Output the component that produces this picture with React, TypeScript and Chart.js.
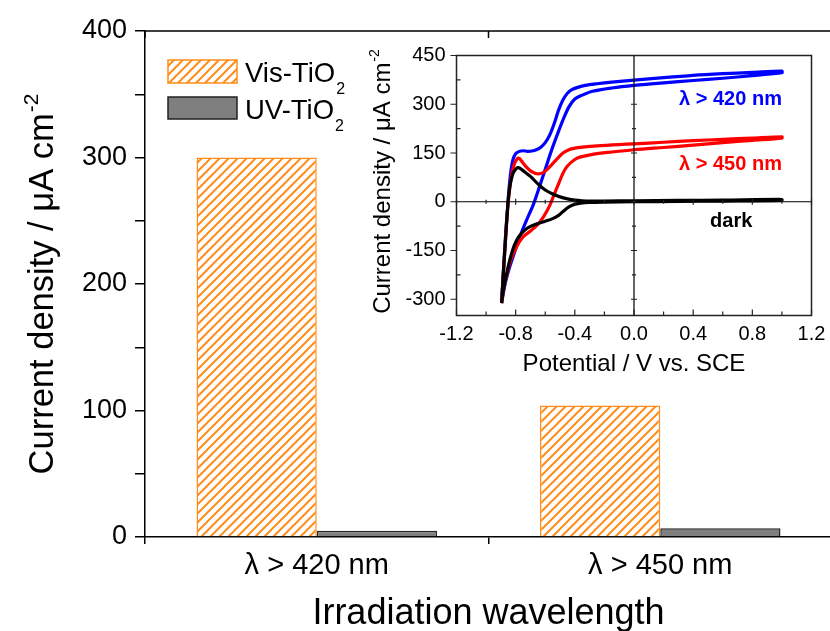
import { useEffect, useRef } from 'react';
import { Chart, registerables } from 'chart.js';

Chart.register(...registerables);

const FONT = "'Liberation Sans', Arial, Helvetica, sans-serif";
const ORANGE = '#FF8C1A';
const GRAY = '#7f7f7f';
const W = 834;
const H = 631;

// ---------- main bar chart ----------
const categories = ['λ > 420 nm', 'λ > 450 nm'];
const visTiO2 = [300, 104];
const uvTiO2 = [5, 7];
const seriesNames = ['Vis-TiO', 'UV-TiO'];
const seriesSub = ['2', '2'];
const mainYTicks = [0, 50, 100, 150, 200, 250, 300, 350, 400];
const mainYLabelled = [0, 100, 200, 300, 400];
const mainXTitle = 'Irradiation wavelength';
const mainYTitle = 'Current density / μA cm';
const mainYTitleSup = '-2';

// ---------- inset cyclic voltammograms ----------
const insetXTicks = [-1.2, -0.8, -0.4, 0.0, 0.4, 0.8, 1.2];
const insetXMinor = [-1.0, -0.6, -0.2, 0.2, 0.6, 1.0];
const insetYTicks = [-300, -150, 0, 150, 300, 450];
const insetYMinor = [-225, -75, 75, 225, 375];
const insetXTitle = 'Potential / V vs. SCE';
const insetYTitle = 'Current density / μA cm';
const insetYTitleSup = '-2';

// λ > 420 nm (blue)
const blueFwdV = [-0.895, -0.886, -0.876, -0.865, -0.855, -0.845, -0.832, -0.818, -0.8, -0.775, -0.75, -0.72, -0.69, -0.66, -0.63, -0.6, -0.57, -0.54, -0.51, -0.48, -0.45, -0.42, -0.38, -0.33, -0.25, -0.15, 0.0, 0.2, 0.4, 0.6, 0.8, 1.0];
const blueFwdJ = [-312, -240, -160, -80, -20, 40, 95, 130, 148, 155, 157, 155, 156, 160, 168, 182, 205, 240, 282, 314, 334, 345, 352, 358, 363, 368, 374, 382, 389, 394, 398, 402];
const blueRevV = [1.0, 0.8, 0.6, 0.4, 0.2, 0.0, -0.15, -0.28, -0.35, -0.4, -0.44, -0.48, -0.52, -0.56, -0.6, -0.64, -0.68, -0.72, -0.76, -0.8, -0.84, -0.87, -0.895];
const blueRevJ = [397, 388, 380, 373, 366, 358, 350, 340, 328, 316, 292, 252, 205, 155, 100, 45, -8, -50, -94, -145, -200, -250, -312];

// λ > 450 nm (red)
const redFwdV = [-0.895, -0.88, -0.865, -0.85, -0.83, -0.81, -0.79, -0.775, -0.76, -0.73, -0.7, -0.67, -0.645, -0.62, -0.59, -0.56, -0.52, -0.48, -0.44, -0.4, -0.35, -0.25, -0.1, 0.0, 0.2, 0.4, 0.6, 0.8, 1.0];
const redFwdJ = [-312, -200, -90, 0, 75, 115, 132, 133, 125, 108, 95, 88, 86, 88, 98, 112, 132, 150, 160, 165, 168, 172, 176, 178, 183, 188, 192, 196, 200];
const redRevV = [1.0, 0.8, 0.6, 0.4, 0.2, 0.0, -0.15, -0.28, -0.36, -0.4, -0.45, -0.48, -0.51, -0.54, -0.57, -0.61, -0.65, -0.7, -0.75, -0.79, -0.83, -0.86, -0.88, -0.895];
const redRevJ = [196, 189, 182, 174, 167, 160, 153, 146, 138, 130, 110, 88, 55, 22, -12, -45, -70, -90, -108, -135, -175, -225, -265, -312];

// dark (black)
const darkFwdV = [-0.895, -0.885, -0.872, -0.862, -0.851, -0.838, -0.82, -0.8, -0.785, -0.77, -0.74, -0.7, -0.65, -0.6, -0.55, -0.5, -0.45, -0.4, -0.35, -0.3, -0.2, 0.0, 0.3, 0.6, 1.0];
const darkFwdJ = [-312, -230, -140, -70, 0, 50, 85, 100, 105, 103, 92, 78, 55, 36, 24, 15, 9, 5, 3, 2, 2, 3, 4, 5, 7];
const darkRevV = [1.0, 0.6, 0.3, 0.0, -0.2, -0.3, -0.36, -0.4, -0.44, -0.48, -0.51, -0.55, -0.6, -0.65, -0.7, -0.74, -0.78, -0.81, -0.84, -0.865, -0.885, -0.895];
const darkRevJ = [4, 2, 1, 0, -1, -2, -4, -8, -16, -30, -42, -52, -60, -67, -76, -88, -108, -135, -180, -230, -275, -312];

const annotTexts = ['λ > 420 nm', 'λ > 450 nm', 'dark'];
const annotV = [1.0, 1.0, 0.8];
const annotJ = [315, 115, -61];
const annotColors = ['#0000FF', '#FF0000', '#000000'];

const toPts = (xs: number[], ys: number[]) => xs.map((x, i) => ({ x, y: ys[i] }));

function makeHatch(): CanvasPattern | string {
  const s = 9;
  const c = document.createElement('canvas');
  c.width = s;
  c.height = s;
  const g = c.getContext('2d');
  if (!g) return ORANGE;
  g.fillStyle = '#ffffff';
  g.fillRect(0, 0, s, s);
  g.strokeStyle = ORANGE;
  g.lineWidth = 2;
  g.beginPath();
  g.moveTo(-1, s + 1);
  g.lineTo(s + 1, -1);
  g.moveTo(-2, 2);
  g.lineTo(2, -2);
  g.moveTo(s - 2, s + 2);
  g.lineTo(s + 2, s - 2);
  g.stroke();
  return g.createPattern(c, 'repeat') || ORANGE;
}

function drawVTitle(ctx: CanvasRenderingContext2D, main: string, sup: string, cx: number, cy: number, size: number) {
  ctx.save();
  ctx.font = `${size}px ${FONT}`;
  const mw = ctx.measureText(main).width;
  const ss = Math.round(size * 0.6);
  ctx.font = `${ss}px ${FONT}`;
  const sw = ctx.measureText(sup).width;
  const total = mw + sw + 1;
  ctx.translate(cx, cy);
  ctx.rotate(-Math.PI / 2);
  ctx.fillStyle = '#000';
  ctx.textAlign = 'left';
  ctx.textBaseline = 'alphabetic';
  const base = size * 0.36;
  ctx.font = `${size}px ${FONT}`;
  ctx.fillText(main, -total / 2, base);
  ctx.font = `${ss}px ${FONT}`;
  ctx.fillText(sup, -total / 2 + mw + 1, base - size * 0.45);
  ctx.restore();
}

function drawSubText(ctx: CanvasRenderingContext2D, main: string, sub: string, x: number, baseline: number, size: number) {
  ctx.save();
  ctx.fillStyle = '#000';
  ctx.textAlign = 'left';
  ctx.textBaseline = 'alphabetic';
  ctx.font = `${size}px ${FONT}`;
  ctx.fillText(main, x, baseline);
  const mw = ctx.measureText(main).width;
  ctx.font = `${Math.round(size * 0.58)}px ${FONT}`;
  ctx.fillText(sub, x + mw + 1, baseline + size * 0.44);
  ctx.restore();
}

export default function App() {
  const mainRef = useRef<HTMLCanvasElement | null>(null);
  const insetRef = useRef<HTMLCanvasElement | null>(null);

  useEffect(() => {
    if (!mainRef.current || !insetRef.current) return;
    const hatch = makeHatch();

    const mainDecor = {
      id: 'mainDecor',
      afterDraw(chart: any) {
        const { ctx, chartArea: a, scales } = chart;
        const xs = scales.x;
        ctx.save();
        ctx.strokeStyle = '#000';
        ctx.lineWidth = 1.5;
        ctx.beginPath();
        ctx.moveTo(a.left, a.top);
        ctx.lineTo(a.right, a.top);
        ctx.lineTo(a.right, a.bottom);
        ctx.stroke();
        ctx.beginPath();
        for (let i = 0; i <= categories.length; i++) {
          const px = xs.getPixelForValue(i - 0.5);
          ctx.moveTo(px, a.top);
          ctx.lineTo(px, a.top + 7);
        }
        ctx.stroke();
        // x title
        ctx.fillStyle = '#000';
        ctx.font = `36px ${FONT}`;
        ctx.textAlign = 'center';
        ctx.textBaseline = 'alphabetic';
        ctx.fillText(mainXTitle, (a.left + a.right) / 2, 624);
        // y title
        drawVTitle(ctx, mainYTitle, mainYTitleSup, 41, (a.top + a.bottom) / 2, 34.5);
        // legend
        const fills = [hatch, GRAY];
        const strokes = [ORANGE, '#222'];
        const boxY = [60, 97];
        const boxH = [23, 22];
        const baseY = [82, 118.5];
        for (let i = 0; i < 2; i++) {
          ctx.fillStyle = fills[i];
          ctx.fillRect(168, boxY[i], 69, boxH[i]);
          ctx.strokeStyle = strokes[i];
          ctx.lineWidth = 1.5;
          ctx.strokeRect(168, boxY[i], 69, boxH[i]);
          drawSubText(ctx, seriesNames[i], seriesSub[i], 245, baseY[i], 27.5);
        }
        ctx.restore();
      },
    };

    const mainChart = new Chart(mainRef.current, {
      type: 'bar',
      data: {
        labels: categories,
        datasets: [
          {
            label: seriesNames[0] + seriesSub[0],
            data: visTiO2,
            backgroundColor: hatch as any,
            borderColor: ORANGE,
            borderWidth: 1.5,
            barPercentage: 1,
            categoryPercentage: 0.7,
          },
          {
            label: seriesNames[1] + seriesSub[1],
            data: uvTiO2,
            backgroundColor: GRAY,
            borderColor: '#222',
            borderWidth: 1.5,
            barPercentage: 1,
            categoryPercentage: 0.7,
          },
        ],
      },
      options: {
        responsive: false,
        animation: false,
        layout: { padding: { left: 0, top: 31, right: W - 832, bottom: 0 } },
        plugins: { legend: { display: false }, tooltip: { enabled: false } },
        scales: {
          x: {
            grid: { display: true, drawOnChartArea: false, offset: true, tickLength: 7, color: '#000', lineWidth: 1.5 },
            border: { display: true, color: '#000', width: 1.5 },
            ticks: { font: { family: FONT, size: 29 }, color: '#000', padding: 5, maxRotation: 0 },
            afterFit: (s: any) => {
              s.height = H - 537;
            },
          },
          y: {
            min: 0,
            max: 400,
            afterBuildTicks: (s: any) => {
              s.ticks = mainYTicks.map((v) => ({ value: v }));
            },
            ticks: {
              autoSkip: false,
              font: { family: FONT, size: 27 },
              color: '#000',
              padding: 8,
              callback: (v: any) => (mainYLabelled.includes(Number(v)) ? String(v) : ''),
            },
            grid: { display: true, drawOnChartArea: false, tickLength: 10, color: '#000', lineWidth: 1.5 },
            border: { display: true, color: '#000', width: 1.5 },
            afterFit: (s: any) => {
              s.width = 145;
            },
          },
        },
      },
      plugins: [mainDecor],
    });

    const insetDecor = {
      id: 'insetDecor',
      afterDraw(chart: any) {
        const { ctx, chartArea: a, scales } = chart;
        const xs = scales.x;
        const ys = scales.y;
        ctx.save();
        ctx.strokeStyle = '#222';
        ctx.lineWidth = 1.5;
        ctx.strokeRect(a.left, a.top, a.right - a.left, a.bottom - a.top);
        const x0 = xs.getPixelForValue(0);
        const y0 = ys.getPixelForValue(0);
        ctx.strokeStyle = '#000';
        ctx.lineWidth = 1.2;
        ctx.beginPath();
        ctx.moveTo(x0, a.top);
        ctx.lineTo(x0, a.bottom);
        ctx.moveTo(a.left, y0);
        ctx.lineTo(a.right, y0);
        ctx.stroke();
        ctx.lineWidth = 1.2;
        ctx.strokeStyle = '#222';
        ctx.beginPath();
        insetYTicks.forEach((v) => {
          const py = ys.getPixelForValue(v);
          ctx.moveTo(a.left - 6, py);
          ctx.lineTo(a.left, py);
          ctx.moveTo(x0 - 3, py);
          ctx.lineTo(x0 + 3, py);
        });
        insetYMinor.forEach((v) => {
          const py = ys.getPixelForValue(v);
          ctx.moveTo(a.left, py);
          ctx.lineTo(a.left + 4, py);
          ctx.moveTo(x0 - 2, py);
          ctx.lineTo(x0 + 2, py);
        });
        insetXTicks.forEach((v) => {
          const px = xs.getPixelForValue(v);
          ctx.moveTo(px, a.bottom);
          ctx.lineTo(px, a.bottom - 6);
          ctx.moveTo(px, y0 - 3);
          ctx.lineTo(px, y0 + 3);
        });
        insetXMinor.forEach((v) => {
          const px = xs.getPixelForValue(v);
          ctx.moveTo(px, a.bottom);
          ctx.lineTo(px, a.bottom - 4);
          ctx.moveTo(px, y0 - 2);
          ctx.lineTo(px, y0 + 2);
        });
        ctx.stroke();
        // titles
        ctx.fillStyle = '#000';
        ctx.font = `24px ${FONT}`;
        ctx.textAlign = 'center';
        ctx.textBaseline = 'alphabetic';
        ctx.fillText(insetXTitle, (a.left + a.right) / 2, 371);
        drawVTitle(ctx, insetYTitle, insetYTitleSup, 381, (a.top + a.bottom) / 2 - 4, 24);
        // annotations
        ctx.font = `bold 20px ${FONT}`;
        ctx.textAlign = 'right';
        ctx.textBaseline = 'middle';
        annotTexts.forEach((t, i) => {
          ctx.fillStyle = annotColors[i];
          ctx.fillText(t, xs.getPixelForValue(annotV[i]), ys.getPixelForValue(annotJ[i]));
        });
        ctx.restore();
      },
    };

    const lineDs = (label: string, color: string, fv: number[], fj: number[], rv: number[], rj: number[]) => ({
      label,
      data: toPts(fv, fj).concat(toPts(rv, rj)),
      borderColor: color,
      backgroundColor: color,
      borderWidth: 3.2,
      pointRadius: 0,
      tension: 0.3,
      fill: false,
    });

    const insetChart = new Chart(insetRef.current, {
      type: 'line',
      data: {
        datasets: [
          lineDs('dark', '#000000', darkFwdV, darkFwdJ, darkRevV, darkRevJ),
          lineDs('λ > 450 nm', '#FF0000', redFwdV, redFwdJ, redRevV, redRevJ),
          lineDs('λ > 420 nm', '#0000FF', blueFwdV, blueFwdJ, blueRevV, blueRevJ),
        ] as any,
      },
      options: {
        responsive: false,
        animation: false,
        layout: { padding: { left: 0, top: 55.5, right: W - 811.5, bottom: 0 } },
        plugins: { legend: { display: false }, tooltip: { enabled: false } },
        scales: {
          x: {
            type: 'linear',
            min: -1.2,
            max: 1.2,
            afterBuildTicks: (s: any) => {
              s.ticks = insetXTicks.map((v) => ({ value: v }));
            },
            ticks: {
              autoSkip: false,
              maxRotation: 0,
              font: { family: FONT, size: 20 },
              color: '#000',
              padding: 7,
              callback: (v: any) => {
                const n = Math.round(Number(v) * 10) / 10;
                return (n === 0 ? 0 : n).toFixed(1);
              },
            },
            grid: { display: false, drawTicks: false },
            border: { display: false },
            afterFit: (s: any) => {
              s.height = H - 315.5;
            },
          },
          y: {
            type: 'linear',
            min: -350,
            max: 450,
            afterBuildTicks: (s: any) => {
              s.ticks = insetYTicks.map((v) => ({ value: v }));
            },
            ticks: {
              autoSkip: false,
              font: { family: FONT, size: 20 },
              color: '#000',
              padding: 11,
              callback: (v: any) => String(v),
            },
            grid: { display: false, drawTicks: false },
            border: { display: false },
            afterFit: (s: any) => {
              s.width = 456.5;
            },
          },
        },
      },
      plugins: [insetDecor],
    });

    return () => {
      mainChart.destroy();
      insetChart.destroy();
    };
  }, []);

  return (
    <div style={{ position: 'fixed', left: 0, top: 0, width: 830, height: 631, overflow: 'hidden', background: '#fff' }}>
      <canvas ref={mainRef} width={W} height={H} style={{ position: 'absolute', left: 0, top: 0, width: W, height: H }} />
      <canvas ref={insetRef} width={W} height={H} style={{ position: 'absolute', left: 0, top: 0, width: W, height: H, pointerEvents: 'none' }} />
    </div>
  );
}
